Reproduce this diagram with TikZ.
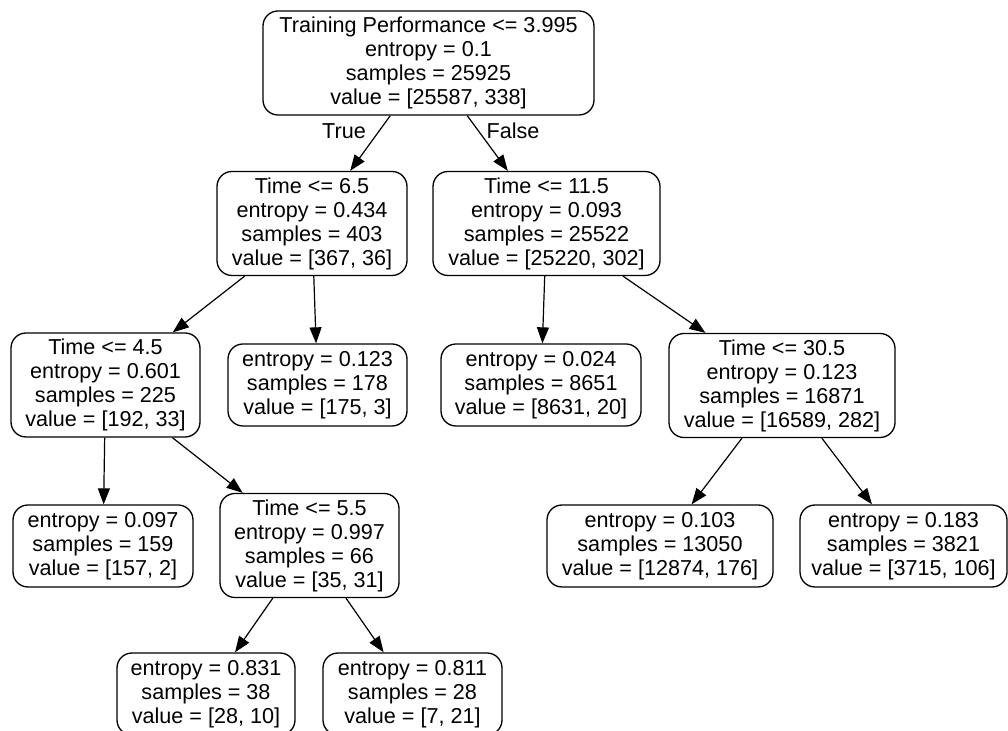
\documentclass[tikz,border=0pt]{standalone}
\usepackage{fontspec}
\setmainfont{Liberation Sans}
\usepackage{tikz}
\usetikzlibrary{positioning,arrows.meta}

\begin{document}
\begin{tikzpicture}[
    x=0.5pt, y=-0.5pt,
    box/.style={draw, line width=0.65pt, rounded corners=7.5pt, align=center,
                inner sep=1pt, font=\fontsize{10.8}{12}\selectfont},
    split/.style={box, minimum height=52pt},
    leaf/.style={box, minimum height=41pt},
    edge/.style={line width=0.6pt, -{Triangle[length=8pt,width=6pt]}},
]
\useasboundingbox (0,0) rectangle (1008,731);

\node[split, minimum width=165.5pt] (root) at (428.5,63)
    {Training Performance <= 3.995\\entropy = 0.1\\samples = 25925\\value = [25587, 338]};
\node[split, minimum width=95pt] (t65) at (312,223.5)
    {Time <= 6.5\\entropy = 0.434\\samples = 403\\value = [367, 36]};
\node[split, minimum width=113.5pt] (t115) at (546.5,223.5)
    {Time <= 11.5\\entropy = 0.093\\samples = 25522\\value = [25220, 302]};

\node[split, minimum width=94.5pt] (t45) at (105.5,385)
    {Time <= 4.5\\entropy = 0.601\\samples = 225\\value = [192, 33]};
\node[leaf, minimum width=89.5pt] (l178) at (317.5,385)
    {entropy = 0.123\\samples = 178\\value = [175, 3]};
\node[leaf, minimum width=100pt] (l8651) at (541,385)
    {entropy = 0.024\\samples = 8651\\value = [8631, 20]};
\node[split, minimum width=113pt] (t305) at (782,385.5)
    {Time <= 30.5\\entropy = 0.123\\samples = 16871\\value = [16589, 282]};

\node[leaf, minimum width=90pt] (l159) at (103,546)
    {entropy = 0.097\\samples = 159\\value = [157, 2]};
\node[split, minimum width=89.5pt] (t55) at (309.5,545.5)
    {Time <= 5.5\\entropy = 0.997\\samples = 66\\value = [35, 31]};
\node[leaf, minimum width=113pt] (l13050) at (660,546)
    {entropy = 0.103\\samples = 13050\\value = [12874, 176]};
\node[leaf, minimum width=103.5pt] (l3821) at (903.5,546)
    {entropy = 0.183\\samples = 3821\\value = [3715, 106]};

\node[leaf, minimum width=89pt] (l38) at (206,694)
    {entropy = 0.831\\samples = 38\\value = [28, 10]};
\node[leaf, minimum width=89.5pt] (l28) at (412.5,694)
    {entropy = 0.811\\samples = 28\\value = [7, 21]};

% edges
\draw[edge] (root) -- (t65);
\draw[edge] (root) -- (t115);
\draw[edge] (t65) -- (t45);
\draw[edge] (t65) -- (l178);
\draw[edge] (t115) -- (l8651);
\draw[edge] (t115) -- (t305);
\draw[edge] (t45) -- (l159);
\draw[edge] (t45) -- (t55);
\draw[edge] (t305) -- (l13050);
\draw[edge] (t305) -- (l3821);
\draw[edge] (t55) -- (l38);
\draw[edge] (t55) -- (l28);

\node[font=\fontsize{10.8}{12}\selectfont] (lbltrue) at (344,131) {True};
\node[font=\fontsize{10.8}{12}\selectfont] (lblfalse) at (513,131) {False};
\end{tikzpicture}
\end{document}
